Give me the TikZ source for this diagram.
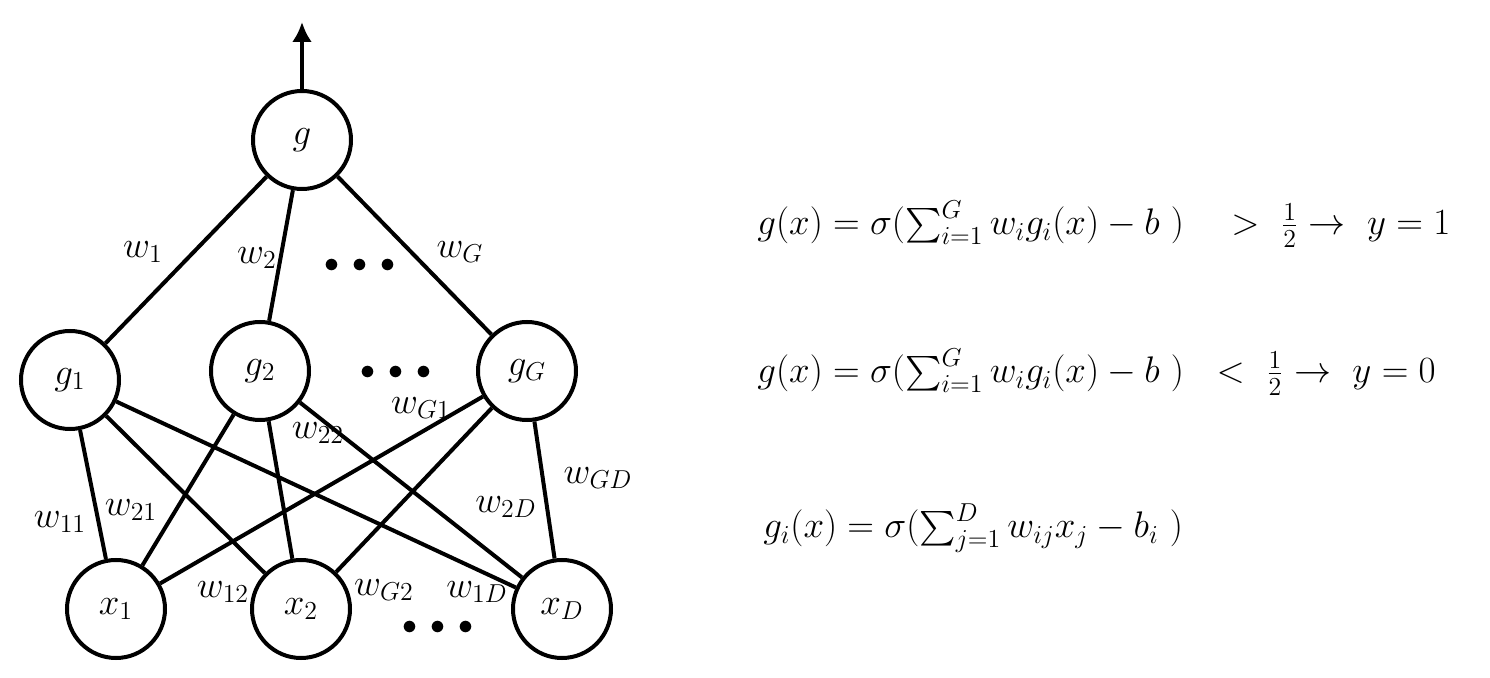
\documentclass[tikz,border=0pt]{standalone}
\usepackage{fix-cm}
\usepackage{exscale}
\usetikzlibrary{arrows.meta}
\begin{document}
\begin{tikzpicture}[x=0.5pt,y=-0.5pt,
  every node/.style={font=\fontsize{18.5}{22}\selectfont},
  neuron/.style={draw,circle,line width=2pt,minimum size=49pt,inner sep=0pt},
  link/.style={line width=2pt},
  wlabel/.style={inner sep=0pt},
  dotsrow/.style={inner sep=0pt,font=\fontsize{15}{18}\selectfont}]
\useasboundingbox (0,0) rectangle (1490,678);
% nodes
\node[neuron] (g)  at (302,140) {$g$};
\node[neuron] (g1) at (70,380)  {$g_1$};
\node[neuron] (g2) at (260,371) {$g_2$};
\node[neuron] (gG) at (527,371) {$g_G$};
\node[neuron] (x1) at (116,609) {$x_1$};
\node[neuron] (x2) at (301,609) {$x_2$};
\node[neuron] (xD) at (562,609) {$x_D$};
\coordinate (out) at (302,22);
% output arrow
\draw[link,-{Latex[length=10pt,width=10pt]}] (g) -- (out);
% top connections
\draw[link] (g) -- (g1);
\draw[link] (g) -- (g2);
\draw[link] (g) -- (gG);
% bottom connections
\foreach \a in {g1,g2,gG}{
  \foreach \b in {x1,x2,xD}{
    \draw[link] (\a) -- (\b);
  }
}
% dots
\node[dotsrow] (d1) at (360,266) {$\bullet\hspace{3pt}\bullet\hspace{3pt}\bullet$};
\node[dotsrow] (d2) at (396,373) {$\bullet\hspace{3pt}\bullet\hspace{3pt}\bullet$};
\node[dotsrow] (d3) at (438,628) {$\bullet\hspace{3pt}\bullet\hspace{3pt}\bullet$};
% weight labels
\node[wlabel] (lw1)  at (143,252) {$w_1$};
\node[wlabel] (lw2)  at (257,258) {$w_2$};
\node[wlabel] (lwG)  at (460,252) {$w_G$};
\node[wlabel] (lw11) at (60,522)  {$w_{11}$};
\node[wlabel] (lw21) at (131,510) {$w_{21}$};
\node[wlabel] (lw22) at (318,433) {$w_{22}$};
\node[wlabel] (lwG1) at (421,408) {$w_{G1}$};
\node[wlabel] (lwGD) at (598,478) {$w_{GD}$};
\node[wlabel] (lw2D) at (506,507) {$w_{2D}$};
\node[wlabel] (lw12) at (223,592) {$w_{12}$};
\node[wlabel] (lwG2) at (384,590) {$w_{G2}$};
\node[wlabel] (lw1D) at (477,592) {$w_{1D}$};
% equations
\node[anchor=west,inner sep=0pt] (e1) at (757,224)
  {$g(x) = \sigma(\textstyle\sum_{i=1}^{G} w_i g_i(x) - b\ )\quad >\ \frac{1}{2} \to\ y = 1$};
\node[anchor=west,inner sep=0pt] (e2) at (757,372)
  {$g(x) = \sigma(\textstyle\sum_{i=1}^{G} w_i g_i(x) - b\ )\ \ <\ \frac{1}{2} \to\ y = 0$};
\node[anchor=west,inner sep=0pt] (e3) at (763,528)
  {$g_i(x) = \sigma(\textstyle\sum_{j=1}^{D} w_{ij} x_j - b_i\ )$};
\end{tikzpicture}
\end{document}
